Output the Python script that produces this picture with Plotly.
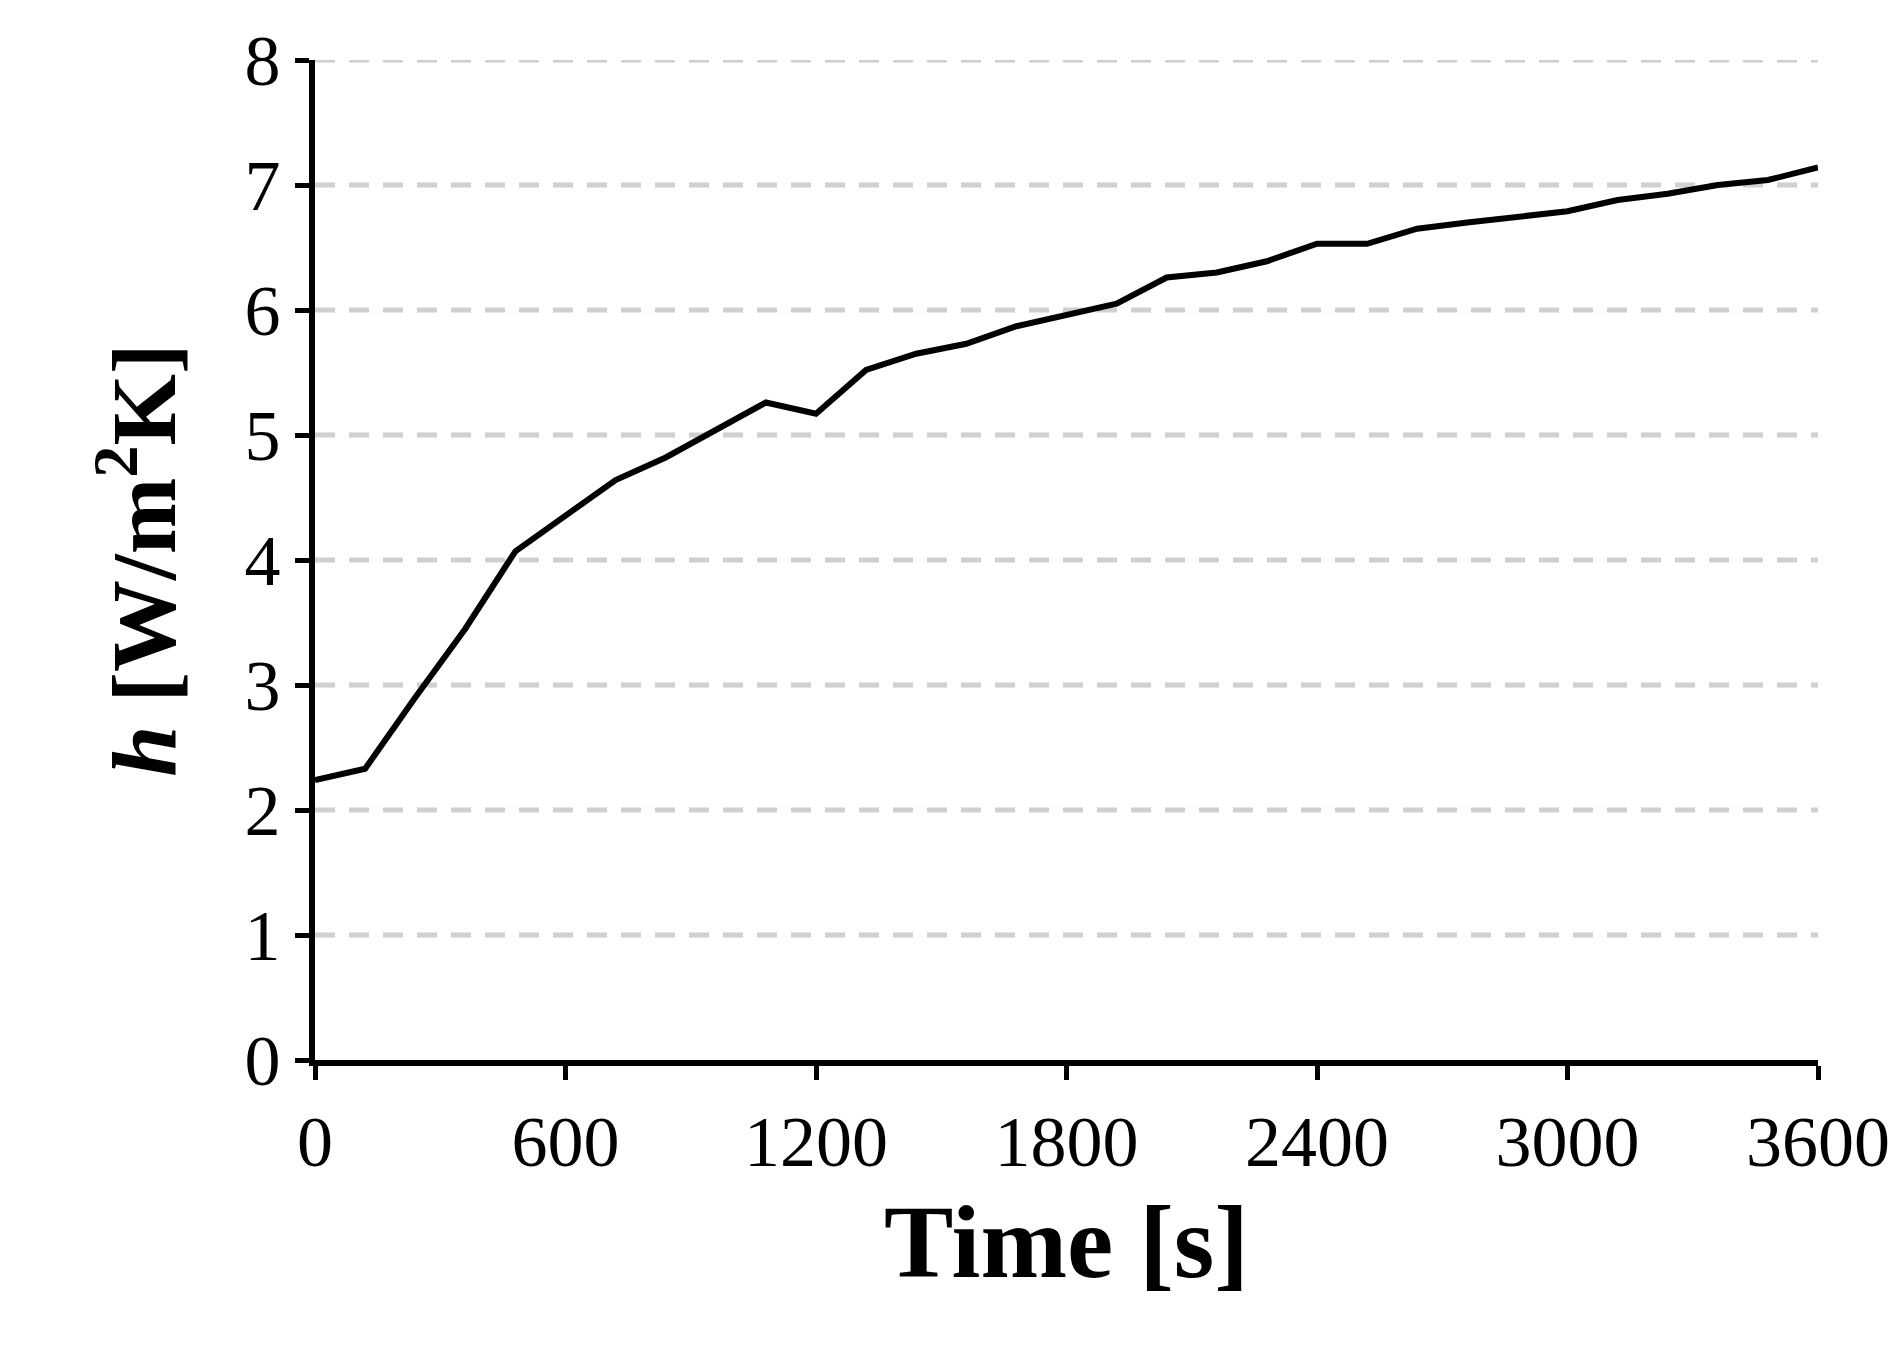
import plotly.graph_objects as go

# time [s] and heat transfer coefficient h [W/m2K]
time_s = [0, 120, 240, 360, 480, 600, 720, 840, 960, 1080, 1200, 1320, 1440, 1560, 1680,
          1800, 1920, 2040, 2160, 2280, 2400, 2520, 2640, 2760, 2880, 3000, 3120, 3240,
          3360, 3480, 3600]
h_vals = [2.24, 2.33, 2.90, 3.45, 4.07, 4.35, 4.64, 4.82, 5.04, 5.26, 5.17, 5.52, 5.65,
          5.73, 5.87, 5.96, 6.05, 6.26, 6.30, 6.39, 6.53, 6.53, 6.65, 6.70, 6.74, 6.79,
          6.88, 6.93, 7.00, 7.04, 7.14]
x_ticks = [0, 600, 1200, 1800, 2400, 3000, 3600]
y_ticks = [0, 1, 2, 3, 4, 5, 6, 7, 8]

fig = go.Figure()
fig.add_trace(go.Scatter(x=time_s, y=h_vals, mode='lines',
                         line=dict(color='black', width=6), showlegend=False))

# dashed horizontal grid lines
for v in y_ticks[1:]:
    fig.add_shape(type='line', xref='paper', x0=0, x1=1, yref='y', y0=v, y1=v,
                  line=dict(color='#d0d0d0', width=5, dash='20px,14px'), layer='below')

fig.update_layout(
    width=1901, height=1348,
    margin=dict(l=307, r=91, t=52, b=296),
    plot_bgcolor='white', paper_bgcolor='white',
    font=dict(family='Liberation Serif', color='black', size=72),
)
fig.update_xaxes(range=[0, 3600], tickvals=x_ticks, showgrid=False, zeroline=False,
                 showline=True, linecolor='black', linewidth=6,
                 ticks='outside', ticklen=14, tickwidth=5, tickcolor='black',
                 title=dict(text='<b>Time [s]</b>', font=dict(size=104), standoff=25))
fig.update_yaxes(range=[0, 8], tickvals=y_ticks, showgrid=False, zeroline=False,
                 showline=True, linecolor='black', linewidth=6,
                 ticks='outside', ticklen=14, tickwidth=5, tickcolor='black',
                 title=dict(text='<b><i>h</i> [W/m<sup>2</sup>K]</b>', font=dict(size=92), standoff=40))

fig.write_html("out.html")
